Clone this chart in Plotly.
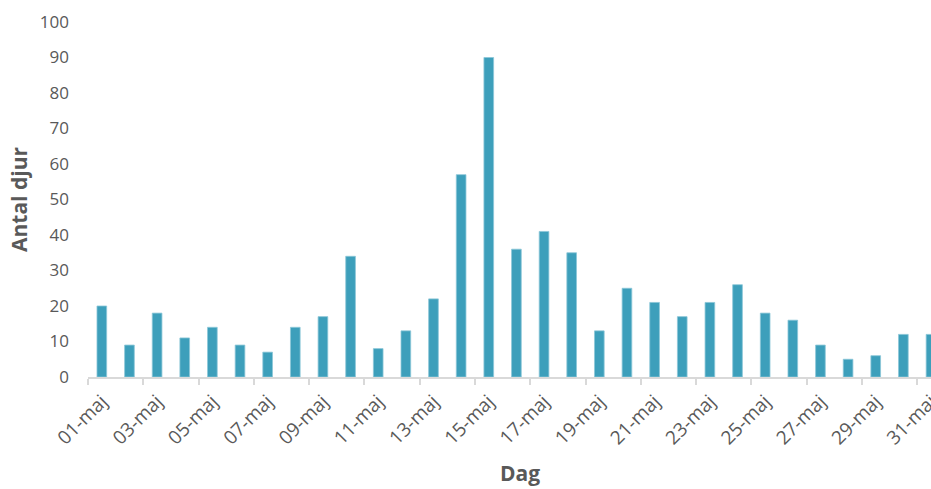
import plotly.graph_objects as go

# Daily counts for May
days = [f"{d:02d}-maj" for d in range(1, 32)]
antal = [20, 9, 18, 11, 14, 9, 7, 14, 17, 34, 8, 13, 22, 57, 90,
         36, 41, 35, 13, 25, 21, 17, 21, 26, 18, 16, 9, 5, 6, 12, 12]

y_ticks = list(range(0, 101, 10))

text_color = "#595959"
bar_color = "#3d9fbb"
font_family = "'Open Sans', sans-serif"

fig = go.Figure()
fig.add_trace(go.Bar(
    x=days,
    y=antal,
    marker=dict(color=bar_color, line=dict(color="#8cc6d8", width=0.8)),
    width=0.35,
    showlegend=False,
))

fig.update_layout(
    width=931,
    height=489,
    margin=dict(l=88, r=0, t=22, b=112),
    paper_bgcolor="white",
    plot_bgcolor="white",
    font=dict(family=font_family, color=text_color, size=17),
    xaxis=dict(
        type="category",
        range=[-0.5, 30.0],
        automargin=False,
        dtick=2,
        tickson="boundaries",
        ticks="outside",
        ticklen=6,
        tickwidth=1.5,
        tickcolor="#d9d9d9",
        tickangle=-45,
        ticklabelstandoff=4,
        tickfont=dict(size=19, color=text_color),
        showline=True,
        linecolor="#d9d9d9",
        linewidth=1.5,
        showgrid=False,
        zeroline=False,
    ),
    yaxis=dict(
        range=[0, 100],
        automargin=False,
        tickvals=y_ticks,
        tickfont=dict(size=17, color=text_color),
        showgrid=False,
        zeroline=False,
        showline=False,
        ticks="",
        ticklabelstandoff=18,
        title=dict(text="<b>Antal djur</b>", font=dict(size=21, color=text_color), standoff=6),
    ),
    annotations=[dict(
        text="<b>Dag</b>",
        xref="paper", yref="paper",
        x=0.513, y=-0.27,
        xanchor="center", yanchor="middle",
        showarrow=False,
        font=dict(size=21, color=text_color),
    )],
)

fig.write_html("out.html")
